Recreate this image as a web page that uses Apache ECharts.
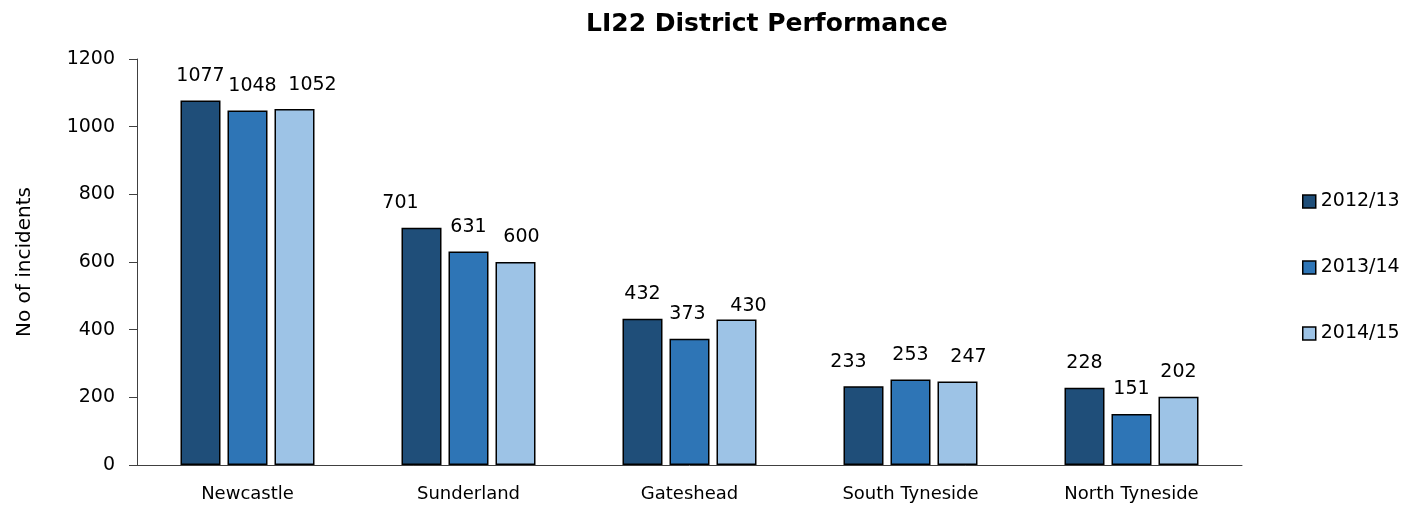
<!DOCTYPE html>
<html lang="en">
<head>
    <meta charset="UTF-8">
    <title>LI22 District Performance</title>
    <script src="https://cdn.jsdelivr.net/npm/echarts@6/dist/echarts.min.js"></script>
    <style>
        html, body { margin: 0; padding: 0; background: #fff; }
        #chart { width: 1402px; height: 509px; }
    </style>
</head>
<body>
    <div id="chart"></div>
    <script>
    // districts and yearly figures
    var districts = ['Newcastle', 'Sunderland', 'Gateshead', 'South Tyneside', 'North Tyneside'];
    var years = ['2012/13', '2013/14', '2014/15'];
    var y2012 = [1077, 701, 432, 233, 228];
    var y2013 = [1048, 631, 373, 253, 151];
    var y2014 = [1052, 600, 430, 247, 202];
    var colors = ['#1F4E79', '#2E75B6', '#9DC3E6'];

    // excel nudged a few value labels sideways to stop them overlapping
    var nudge2012 = [[0, 0], [-21, 0], [0, 0], [-15, 0], [0, 0]];
    var nudge2013 = [[5, 0], [0, 0], [-2, 0], [0, 0], [0, 0]];
    var nudge2014 = [[18, 0], [6, 0], [12, 11], [11, 0], [0, 0]];

    var font = 'DejaVu Sans';

    function makeSeries(name, values, nudge, color) {
        var data = values.map(function (v, i) {
            return { value: v, label: { offset: nudge[i] } };
        });
        return {
            name: name,
            type: 'bar',
            data: data,
            barWidth: 40,
            barGap: '17.5%',
            itemStyle: { color: color, borderColor: '#000', borderWidth: 1.5 },
            label: {
                show: true,
                position: 'top',
                distance: 15,
                color: '#000',
                fontFamily: font,
                fontSize: 19
            }
        };
    }

    var myChart = echarts.init(document.getElementById('chart'));
    var option = {
        animation: false,
        title: {
            text: 'LI22 District Performance',
            left: 581,
            top: 7,
            textStyle: { fontFamily: font, fontWeight: 'bold', fontSize: 25, color: '#000' }
        },
        legend: {
            orient: 'vertical',
            left: 1297,
            top: 187,
            itemGap: 47,
            itemWidth: 13,
            itemHeight: 13,
            icon: 'rect',
            itemStyle: { borderColor: '#000', borderWidth: 1.5 },
            textStyle: { fontFamily: font, fontSize: 19, color: '#000' },
            data: years
        },
        grid: {
            left: 137,
            right: 160,
            top: 59,
            bottom: 44
        },
        xAxis: {
            type: 'category',
            data: districts,
            axisLine: { lineStyle: { color: '#404040', width: 1 } },
            axisTick: { show: false },
            axisLabel: { fontFamily: font, fontSize: 18, color: '#000', margin: 20 }
        },
        yAxis: {
            type: 'value',
            min: 0,
            max: 1200,
            interval: 200,
            name: 'No of incidents',
            nameLocation: 'middle',
            nameGap: 102,
            nameTextStyle: { fontFamily: font, fontSize: 20, color: '#000' },
            axisLine: { show: true, lineStyle: { color: '#404040', width: 1 } },
            axisTick: { show: true, length: 8, lineStyle: { color: '#404040' } },
            axisLabel: {
                fontFamily: font, fontSize: 19, color: '#000', margin: 22,
                formatter: function (v) { return String(v); }
            },
            splitLine: { show: false }
        },
        series: [
            makeSeries(years[0], y2012, nudge2012, colors[0]),
            makeSeries(years[1], y2013, nudge2013, colors[1]),
            makeSeries(years[2], y2014, nudge2014, colors[2])
        ]
    };
    myChart.setOption(option);
    </script>
</body>
</html>
